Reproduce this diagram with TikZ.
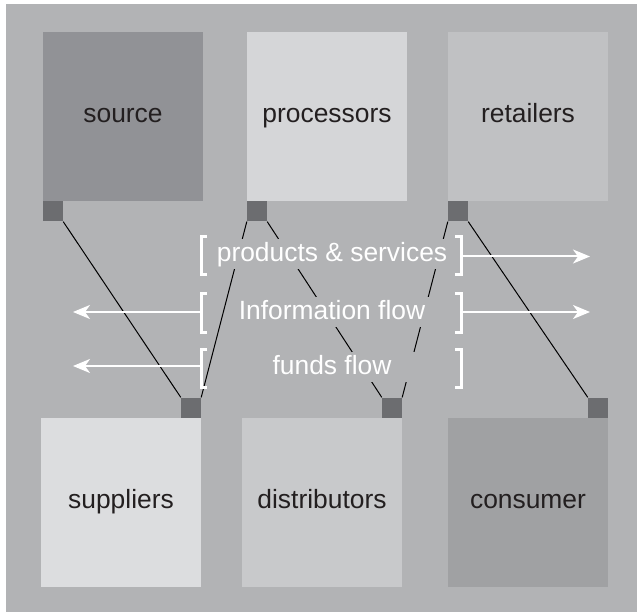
\documentclass[tikz,border=0pt]{standalone}
\usepackage{fontspec}
\setmainfont{Liberation Sans}
\usetikzlibrary{arrows.meta}
\definecolor{bg}{RGB}{178,179,181}
\definecolor{ink}{RGB}{35,31,32}
\definecolor{portc}{RGB}{108,109,112}
\definecolor{csource}{RGB}{145,146,150}
\definecolor{cproc}{RGB}{213,214,216}
\definecolor{cretail}{RGB}{192,193,195}
\definecolor{csupp}{RGB}{220,221,223}
\definecolor{cdist}{RGB}{200,201,203}
\definecolor{ccons}{RGB}{160,161,163}
\begin{document}
\begin{tikzpicture}[x=1pt,y=-1pt,
  box/.style={rectangle, inner sep=0pt, minimum width=160pt, minimum height=169pt,
    text height=18pt, text depth=6pt, font=\fontsize{26.4}{30}\selectfont, text=ink},
  port/.style={rectangle, inner sep=0pt, minimum size=20pt, fill=portc},
  link/.style={draw=black, line width=1pt},
  mask/.style={rectangle, inner sep=0pt, fill=bg, minimum width=217pt, minimum height=30pt},
  flow/.style={text=white, inner sep=0pt, anchor=base, font=\fontsize{26.4}{30}\selectfont},
  brk/.style={draw=white, line width=3pt},
  flowarrow/.style={draw=white, line width=2pt, -{Stealth[length=17pt,width=14pt,inset=5pt]}}
]
\useasboundingbox[fill=white] (0,0) rectangle (637,612);
\fill[bg] (6,4) rectangle (637,612);

% boxes
\node[box, fill=csource] (source) at (123,116.5) {source};
\node[box, fill=cproc] (processors) at (327,116.5) {processors};
\node[box, fill=cretail] (retailers) at (528,116.5) {retailers};
\node[box, fill=csupp] (suppliers) at (121,502.5) {suppliers};
\node[box, fill=cdist] (distributors) at (322,502.5) {distributors};
\node[box, fill=ccons] (consumer) at (528,502.5) {consumer};

% ports
\node[port, anchor=north west] (sourcep) at (source.south west) {};
\node[port, anchor=north west] (processorsp) at (processors.south west) {};
\node[port, anchor=north west] (retailersp) at (retailers.south west) {};
\node[port, anchor=south east] (suppliersp) at (suppliers.north east) {};
\node[port, anchor=south east] (distributorsp) at (distributors.north east) {};
\node[port, anchor=south east] (consumerp) at (consumer.north east) {};

% links
\draw[link] (sourcep.south east) -- (suppliersp.north west);
\draw[link] (processorsp.south west) -- (suppliersp.north east);
\draw[link] (processorsp.south east) -- (distributorsp.north west);
\draw[link] (retailersp.south west) -- (distributorsp.north east);
\draw[link] (retailersp.south east) -- (consumerp.north west);

% masks under flow labels
\node[mask] (m1) at (339.5,254.5) {};
\node[mask] (m2) at (339.5,312) {};
\node[mask] (m3) at (339.5,367) {};

% flow labels
\node[flow] (t1) at (332,261.7) {products \& services};
\node[flow] (t2) at (332,319.3) {Information flow};
\node[flow] (t3) at (332,374.3) {funds flow};

% brackets
\draw[brk] (207,237) -- (201,237) -- (201,275) -- (207,275);
\draw[brk] (207,294) -- (201,294) -- (201,332) -- (207,332);
\draw[brk] (207,349) -- (201,349) -- (201,387) -- (207,387);
\draw[brk] (455,237) -- (461,237) -- (461,275) -- (455,275);
\draw[brk] (455,294) -- (461,294) -- (461,332) -- (455,332);
\draw[brk] (455,349) -- (461,349) -- (461,387) -- (455,387);

% arrow ends
\coordinate (a1s) at (462,256.5);
\coordinate (a1e) at (590,256.5);
\coordinate (a2ls) at (200,312);
\coordinate (a2le) at (73,312);
\coordinate (a2rs) at (462,312);
\coordinate (a2re) at (590,312);
\coordinate (a3s) at (200,366);
\coordinate (a3e) at (73,366);

\draw[flowarrow] (a1s) -- (a1e);
\draw[flowarrow] (a2ls) -- (a2le);
\draw[flowarrow] (a2rs) -- (a2re);
\draw[flowarrow] (a3s) -- (a3e);
\end{tikzpicture}
\end{document}
